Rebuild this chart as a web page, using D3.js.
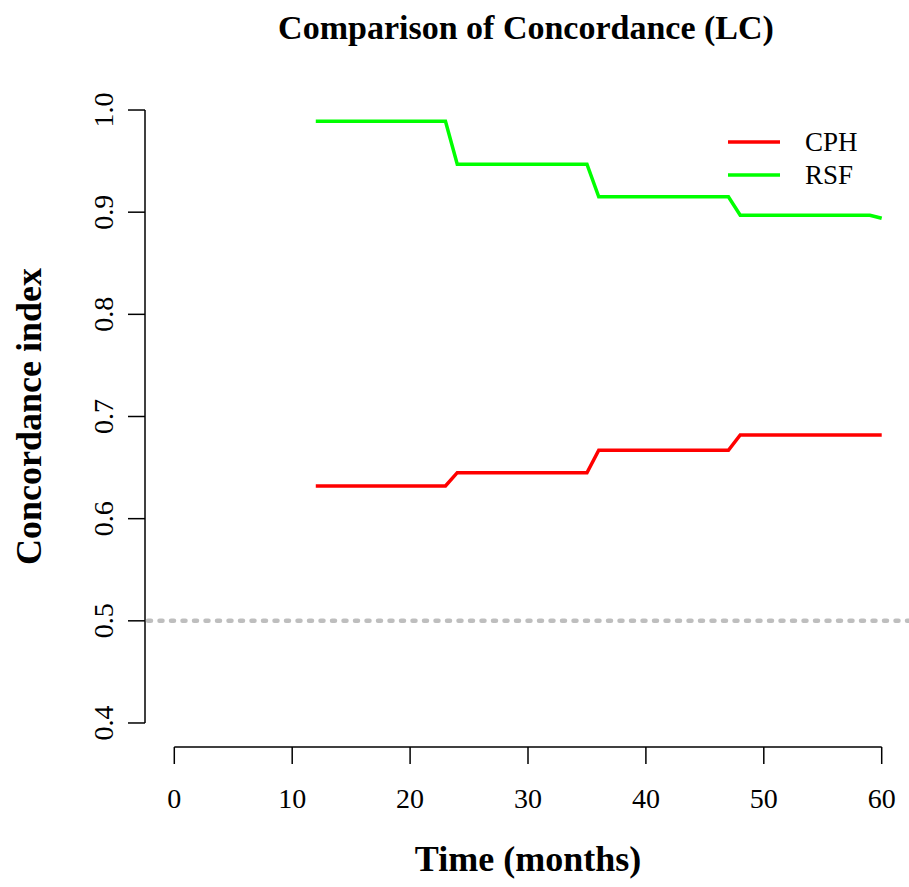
<!DOCTYPE html>
<html>
<head>
<meta charset="utf-8">
<script src="https://cdn.jsdelivr.net/npm/d3@7"></script>
<style>
  body { margin: 0; background: #fff; }
  svg text { font-family: "Liberation Serif", "DejaVu Serif", serif; fill: #000; }
</style>
</head>
<body>
<div class="chart"></div>
<script>
  // data
  var timePoints = [12, 23, 24, 35, 36, 47, 48, 59, 60];
  var cphValues = [0.632, 0.632, 0.645, 0.645, 0.667, 0.667, 0.682, 0.682, 0.682];
  var rsfValues = [0.989, 0.989, 0.947, 0.947, 0.915, 0.915, 0.897, 0.897, 0.894];
  var seriesNames = ["CPH", "RSF"];
  var seriesColors = ["#ff0000", "#00ff00"];
  var xTicks = [0, 10, 20, 30, 40, 50, 60];
  var yTicks = [0.4, 0.5, 0.6, 0.7, 0.8, 0.9, 1.0];

  var width = 909;
  var height = 887;

  var svg = d3.select(".chart").append("svg")
    .attr("width", width)
    .attr("height", height);

  // plot region like R (4% padding)
  var x = d3.scaleLinear().domain([-2.4, 62.4]).range([146, 910]);
  var y = d3.scaleLinear().domain([0.376, 1.024]).range([747.5, 85.5]);

  // title
  svg.append("text")
    .attr("x", 526)
    .attr("y", 39)
    .attr("text-anchor", "middle")
    .style("font-weight", "bold")
    .style("font-size", "34px")
    .text("Comparison of Concordance (LC)");

  // x axis
  var xg = svg.append("g").attr("transform", "translate(0,747)");
  xg.append("line")
    .attr("x1", x(0)).attr("x2", x(60))
    .attr("stroke", "#000").attr("stroke-width", 1.5);
  xg.selectAll(".xt").data(xTicks).enter().append("line")
    .attr("x1", function(d) { return x(d); })
    .attr("x2", function(d) { return x(d); })
    .attr("y1", 0).attr("y2", 17)
    .attr("stroke", "#000").attr("stroke-width", 1.5);
  xg.selectAll(".xl").data(xTicks).enter().append("text")
    .attr("x", function(d) { return x(d); })
    .attr("y", 61)
    .attr("text-anchor", "middle")
    .style("font-size", "28px")
    .text(function(d) { return d; });

  // y axis
  var yg = svg.append("g").attr("transform", "translate(145,0)");
  yg.append("line")
    .attr("y1", y(0.4)).attr("y2", y(1.0))
    .attr("stroke", "#000").attr("stroke-width", 1.5);
  yg.selectAll(".yt").data(yTicks).enter().append("line")
    .attr("y1", function(d) { return y(d); })
    .attr("y2", function(d) { return y(d); })
    .attr("x1", 0).attr("x2", -17)
    .attr("stroke", "#000").attr("stroke-width", 1.5);
  yg.selectAll(".yl").data(yTicks).enter().append("text")
    .attr("transform", function(d) { return "translate(-32," + y(d) + ") rotate(-90)"; })
    .attr("text-anchor", "middle")
    .style("font-size", "28px")
    .text(function(d) { return d.toFixed(1); });

  // axis titles
  svg.append("text")
    .attr("x", 528)
    .attr("y", 871)
    .attr("text-anchor", "middle")
    .style("font-weight", "bold")
    .style("font-size", "36px")
    .text("Time (months)");

  svg.append("text")
    .attr("transform", "translate(41," + y(0.7) + ") rotate(-90)")
    .attr("text-anchor", "middle")
    .style("font-weight", "bold")
    .style("font-size", "36px")
    .text("Concordance index");

  // reference line at 0.5
  svg.append("line")
    .attr("x1", 148).attr("x2", 910)
    .attr("y1", y(0.5)).attr("y2", y(0.5))
    .attr("stroke", "#bebebe")
    .attr("stroke-width", 4.5)
    .attr("stroke-linecap", "round")
    .attr("stroke-dasharray", "3 8.5");

  var line = d3.line()
    .x(function(d) { return x(d[0]); })
    .y(function(d) { return y(d[1]); });

  [cphValues, rsfValues].forEach(function(vals, i) {
    svg.append("path")
      .datum(timePoints.map(function(t, j) { return [t, vals[j]]; }))
      .attr("d", line)
      .attr("fill", "none")
      .attr("stroke", seriesColors[i])
      .attr("stroke-width", 3.5);
  });

  // legend
  var lg = svg.append("g");
  seriesNames.forEach(function(name, i) {
    var ly = 142 + i * 33;
    lg.append("line")
      .attr("x1", 728).attr("x2", 780)
      .attr("y1", ly).attr("y2", ly)
      .attr("stroke", seriesColors[i])
      .attr("stroke-width", 3.5);
    lg.append("text")
      .attr("x", 805)
      .attr("y", ly + 9)
      .style("font-size", "27px")
      .text(name);
  });
</script>
</body>
</html>
